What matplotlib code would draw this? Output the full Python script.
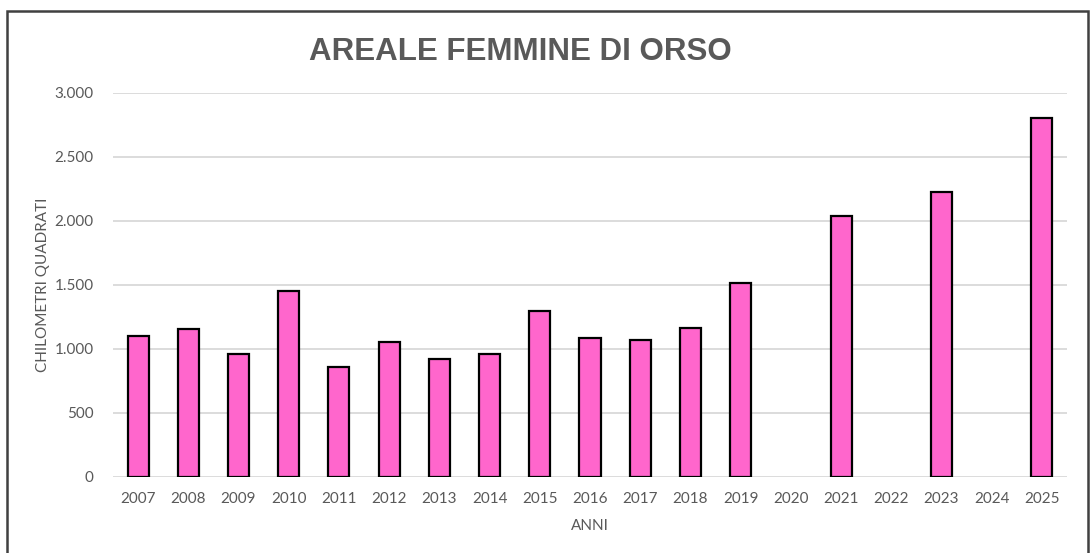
import matplotlib.pyplot as plt
from matplotlib.patches import Rectangle
from matplotlib.ticker import FuncFormatter

# areale femmine di orso, km^2 (2020, 2022, 2024 senza dato)
anni = ["2007", "2008", "2009", "2010", "2011", "2012", "2013", "2014", "2015", "2016",
        "2017", "2018", "2019", "2020", "2021", "2022", "2023", "2024", "2025"]
areale = [1100, 1160, 960, 1455, 862, 1052, 922, 958, 1300, 1087,
          1068, 1162, 1518, 0, 2036, 0, 2229, 0, 2802]
y_ticks = [0, 500, 1000, 1500, 2000, 2500, 3000]

GREY = "#595959"
PINK = "#FF66CC"

plt.rcParams["font.family"] = ["Lato", "DejaVu Sans"]

fig = plt.figure(figsize=(10.9, 5.53), dpi=100)
ax = fig.add_axes([113 / 1090, 76 / 553, 954 / 1090, 384 / 553])

x = list(range(len(anni)))
heights = [v if v > 0 else float("nan") for v in areale]
ax.bar(x, heights, width=0.42, color=PINK, edgecolor="black", linewidth=1.6, zorder=3)

ax.set_xlim(-0.5, len(anni) - 0.5)
ax.set_ylim(0, 3000)
ax.set_yticks(y_ticks)
ax.yaxis.set_major_formatter(FuncFormatter(lambda v, p: f"{int(v):,}".replace(",", ".")))
ax.set_xticks(x)
ax.set_xticklabels(anni)

ax.grid(axis="y", color="#d9d9d9", linewidth=1.3, zorder=0)
for s in ax.spines.values():
    s.set_visible(False)
ax.tick_params(axis="both", length=0, colors=GREY, labelsize=11)
ax.tick_params(axis="x", pad=11)
ax.tick_params(axis="y", pad=14)

ax.set_xlabel("ANNI", color=GREY, fontsize=11, labelpad=9)
ax.set_ylabel("CHILOMETRI QUADRATI", color=GREY, fontsize=11, labelpad=3)

fig.text(520 / 1090, 1 - 52 / 553, "AREALE FEMMINE DI ORSO", ha="center", va="center",
         fontsize=22.5, fontweight="bold", color=GREY,
         family=["Liberation Sans Narrow", "Liberation Sans", "DejaVu Sans"])

# chart border
fig.patches.append(Rectangle((7 / 1090, -0.05), 1081 / 1090, 1 - 11 / 553 + 0.05,
                             transform=fig.transFigure, fill=False,
                             edgecolor="#404040", linewidth=1.8))

fig.savefig("out.png", dpi=100, facecolor="white")
